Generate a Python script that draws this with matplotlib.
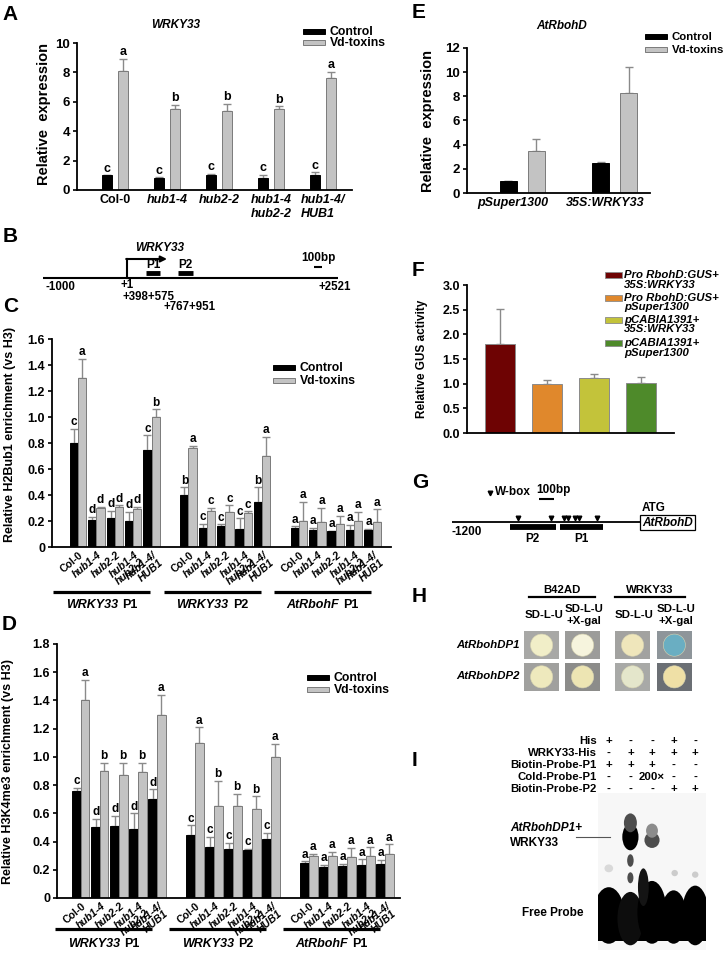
import numpy as np
import matplotlib
matplotlib.use('Agg')
import matplotlib.pyplot as plt
from matplotlib.patches import Rectangle, Ellipse
from matplotlib.offsetbox import TextArea, HPacker, AnnotationBbox

plt.rcParams['font.family'] = ['Liberation Sans', 'DejaVu Sans']
plt.rcParams['font.weight'] = 'bold'
plt.rcParams['axes.labelweight'] = 'bold'

W, H = 724, 963
GRAY, EDGE, ERR = '#c3c3c3', '#7a7a7a', '#8a8a8a'

#%% DATA
genotypes = ['Col-0', 'hub1-4', 'hub2-2', 'hub1-4\nhub2-2', 'hub1-4/\nHUB1']

# A - WRKY33 expression
a_ctrl = [1.0, 0.85, 1.0, 0.85, 1.0]
a_ctrl_err = [0.0, 0.02, 0.12, 0.17, 0.2]
a_vd = [8.1, 5.5, 5.4, 5.5, 7.6]
a_vd_err = [0.8, 0.3, 0.45, 0.2, 0.45]
a_ctrl_let = ['c', 'c', 'c', 'c', 'c']
a_vd_let = ['a', 'b', 'b', 'b', 'a']

# B - WRKY33 locus (bp, as drawn)
b_span = [-1000, 2521]
b_tss, b_arrow_end = 1, 480
b_p1_drawn = [229, 396]
b_p2_drawn = [611, 790]
b_scale = [2234, 2334]

# C - H2Bub1 ChIP
cluster_gene = ['WRKY33', 'WRKY33', 'AtRbohF']
cluster_probe = ['P1', 'P2', 'P1']
c_ctrl = [0.80, 0.21, 0.22, 0.20, 0.75,
          0.40, 0.15, 0.16, 0.14, 0.35,
          0.15, 0.13, 0.12, 0.13, 0.13]
c_ctrl_err = [0.11, 0.02, 0.06, 0.07, 0.11,
              0.06, 0.03, 0.015, 0.08, 0.11,
              0.01, 0.015, 0.005, 0.04, 0.01]
c_vd = [1.30, 0.30, 0.31, 0.29, 1.00,
        0.76, 0.28, 0.27, 0.26, 0.70,
        0.20, 0.19, 0.18, 0.20, 0.19]
c_vd_err = [0.15, 0.01, 0.01, 0.02, 0.06,
            0.02, 0.02, 0.05, 0.015, 0.15,
            0.15, 0.11, 0.06, 0.07, 0.10]
c_ctrl_let = list('cdddc' 'bcccb' 'aaaaa')
c_vd_let = list('adddb' 'accca' 'aaaaa')

# D - H3K4me3 ChIP
d_ctrl = [0.76, 0.50, 0.51, 0.49, 0.70,
          0.45, 0.36, 0.35, 0.34, 0.42,
          0.25, 0.22, 0.23, 0.235, 0.24]
d_ctrl_err = [0.02, 0.06, 0.07, 0.11, 0.07,
              0.065, 0.075, 0.04, 0.01, 0.04,
              0.01, 0.015, 0.01, 0.04, 0.03]
d_vd = [1.40, 0.90, 0.87, 0.89, 1.30,
        1.10, 0.65, 0.65, 0.63, 1.00,
        0.30, 0.30, 0.29, 0.30, 0.31]
d_vd_err = [0.145, 0.06, 0.09, 0.07, 0.14,
            0.11, 0.18, 0.09, 0.09, 0.09,
            0.015, 0.025, 0.065, 0.06, 0.07]
d_ctrl_let = list('cdddd' 'ccccc' 'aaaaa')
d_vd_let = list('abbba' 'abbba' 'aaaaa')

# E - AtRbohD expression
e_lines = ['pSuper1300', '35S:WRKY33']
e_ctrl = [1.0, 2.5]
e_ctrl_err = [0.0, 0.06]
e_vd = [3.5, 8.25]
e_vd_err = [0.95, 2.15]

# F - GUS activity
f_labels = [('Pro RbohD:GUS+', '35S:WRKY33'), ('Pro RbohD:GUS+', 'pSuper1300'),
            ('pCABIA1391+', '35S:WRKY33'), ('pCABIA1391+', 'pSuper1300')]
f_vals = [1.80, 1.00, 1.12, 1.02]
f_err = [0.72, 0.08, 0.07, 0.11]
f_colors = ['#6e0303', '#e0882c', '#c3c33a', '#4e8a2a']

# G - AtRbohD promoter (bp, as drawn)
g_span = [-1200, 0]
g_p2_drawn = [-831, -538]
g_p1_drawn = [-512, -238]
g_wbox = [-780, -569, -486, -459, -417, -392, -276]
g_scale = [-646, -546]

# H - yeast one-hybrid
h_cols = ['SD-L-U', 'SD-L-U\n+X-gal', 'SD-L-U', 'SD-L-U\n+X-gal']
h_rows = ['AtRbohDP1', 'AtRbohDP2']
h_tile = [['#a8a8a6', '#9c9c9a', '#a2a2a0', '#8e959a'],
          ['#a0a09e', '#8c8c8a', '#a8a9a7', '#6b6f74']]
h_colony = [['#f1eec8', '#f6f4dd', '#efe6bb', '#6aaec2'],
            ['#eee9bd', '#ede5b3', '#e4e6cb', '#efe0a6']]

# I - EMSA
i_rows = ['His', 'WRKY33-His', 'Biotin-Probe-P1', 'Cold-Probe-P1', 'Biotin-Probe-P2']
i_table = [['+', '-', '-', '+', '-'],
           ['-', '+', '+', '+', '+'],
           ['+', '+', '+', '-', '-'],
           ['-', '-', '200×', '-', '-'],
           ['-', '-', '-', '+', '+']]
# lane, y (gel fraction), width (lanes), height, grey level
gel_blobs = [(1.0, 0.78, 1.45, 0.36, 0.0), (2.0, 0.80, 1.20, 0.34, 0.05),
             (3.0, 0.76, 1.35, 0.40, 0.0), (4.0, 0.79, 1.20, 0.34, 0.0),
             (5.0, 0.78, 1.25, 0.38, 0.0), (2.6, 0.60, 0.50, 0.24, 0.08),
             (2.0, 0.28, 0.75, 0.17, 0.0), (2.0, 0.19, 0.60, 0.12, 0.3),
             (3.0, 0.30, 0.70, 0.10, 0.3), (3.0, 0.24, 0.55, 0.09, 0.55),
             (2.0, 0.43, 0.30, 0.08, 0.3), (2.0, 0.54, 0.28, 0.07, 0.3),
             (1.0, 0.48, 0.40, 0.05, 0.85), (4.05, 0.51, 0.30, 0.04, 0.8),
             (5.0, 0.52, 0.30, 0.04, 0.8)]

#%% HELPERS
fig = plt.figure(figsize=(W / 100, H / 100), dpi=100)


def box(l, t, r, b):
    return [l / W, 1 - b / H, (r - l) / W, (b - t) / H]


def style(ax, ysize):
    ax.spines['top'].set_visible(False)
    ax.spines['right'].set_visible(False)
    ax.spines['left'].set_linewidth(1.3)
    ax.spines['bottom'].set_linewidth(1.3)
    ax.tick_params(axis='y', direction='out', length=3, width=1.2, pad=2, labelsize=ysize)
    ax.tick_params(axis='x', length=0)
    ax.set_facecolor('none')


def bars_with_letters(ax, pos, vals, errs, lets, color, edge, w, fs):
    ax.bar(pos, vals, w, color=color, edgecolor=edge, linewidth=0.7, zorder=2)
    ax.errorbar(pos, vals, yerr=[np.zeros(len(vals)), errs], fmt='none',
                ecolor=ERR, elinewidth=1.0, capsize=2.8, capthick=1.0, zorder=1)
    if lets is None:
        return
    for x, v, e, l in zip(pos, vals, errs, lets):
        ax.annotate(l, (x, v + e), xytext=(0, 0.5), textcoords='offset points',
                    ha='center', va='bottom', fontsize=fs)


def cluster_chart(ax, ctrl, ce, vd, ve, lc, lv, ymax, xl, ylab, under_y, lab_y, ext):
    pos = np.concatenate([np.arange(5) + 6 * k for k in range(3)])
    w = 0.45
    bars_with_letters(ax, pos - w / 2, ctrl, ce, lc, 'black', 'black', w, 8.5)
    bars_with_letters(ax, pos + w / 2, vd, ve, lv, GRAY, EDGE, w, 8.5)
    ax.set_xlim(*xl)
    ax.set_ylim(0, ymax)
    ticks = np.arange(0, ymax + 0.01, 0.2)
    ax.set_yticks(ticks)
    ax.set_yticklabels(['0'] + [f'{t:.1f}' for t in ticks[1:]])
    style(ax, 9)
    ax.set_xticks(pos + 0.05)
    ax.set_xticklabels(genotypes * 3, rotation=40, ha='right', va='top',
                       rotation_mode='anchor', fontsize=7.6, multialignment='right',
                       linespacing=0.95)
    for t in ax.get_xticklabels():
        if t.get_text() != 'Col-0':
            t.set_fontstyle('italic')
    ax.tick_params(axis='x', pad=2)
    ax.set_ylabel(ylab, fontsize=9)
    tr = ax.get_xaxis_transform()
    for k in range(3):
        x0, x1 = 6 * k + ext[0], 6 * k + ext[1]
        ax.plot([x0, x1], [under_y, under_y], color='black', lw=2.3,
                transform=tr, clip_on=False, solid_capstyle='butt')
        pack = HPacker(children=[
            TextArea(cluster_gene[k], textprops=dict(fontsize=9, fontstyle='italic', fontweight='bold')),
            TextArea(cluster_probe[k], textprops=dict(fontsize=9, fontweight='bold'))],
            pad=0, sep=3, align='baseline')
        ab = AnnotationBbox(pack, ((x0 + x1) / 2, lab_y), xycoords=tr, frameon=False,
                            box_alignment=(0.5, 0.5), pad=0, annotation_clip=False)
        ax.add_artist(ab)


#%% A
axA = fig.add_axes(box(77, 43, 352, 190))
xa = np.arange(5)
bars_with_letters(axA, xa - 0.154, a_ctrl, a_ctrl_err, a_ctrl_let, 'black', 'black', 0.19, 9)
bars_with_letters(axA, xa + 0.154, a_vd, a_vd_err, a_vd_let, GRAY, EDGE, 0.19, 9)
axA.set_xlim(-0.73, 4.56)
axA.set_ylim(0, 10)
axA.set_yticks(range(0, 11, 2))
style(axA, 9.5)
axA.set_xticks(xa)
axA.set_xticklabels(genotypes, fontsize=9, multialignment='left')
for t in axA.get_xticklabels():
    if t.get_text() != 'Col-0':
        t.set_fontstyle('italic')
axA.tick_params(axis='x', pad=3)
axA.set_ylabel('Relative  expression', fontsize=10.5)
axA.yaxis.set_label_coords(-0.095, 0.52)

#%% C
axC = fig.add_axes(box(52, 339, 391, 547))
cluster_chart(axC, c_ctrl, c_ctrl_err, c_vd, c_vd_err, c_ctrl_let, c_vd_let, 1.6,
              (-1.41, 17.0), 'Relative H2Bub1 enrichment (vs H3)', -0.215, -0.28, (-1.35, 3.92))
axC.yaxis.set_label_coords(-0.105, 0.54)

#%% D
axD = fig.add_axes(box(57, 644, 400, 898))
cluster_chart(axD, d_ctrl, d_ctrl_err, d_vd, d_vd_err, d_ctrl_let, d_vd_let, 1.8,
              (-1.26, 16.79), 'Relative H3K4me3 enrichment (vs H3)', -0.122, -0.18, (-1.35, 3.75))
axD.yaxis.set_label_coords(-0.125, 0.5)

#%% E
axE = fig.add_axes(box(467, 48, 650, 193))
xe = np.arange(2)
bars_with_letters(axE, xe - 0.151, e_ctrl, e_ctrl_err, None, 'black', 'black', 0.184, 9)
bars_with_letters(axE, xe + 0.151, e_vd, e_vd_err, None, GRAY, EDGE, 0.184, 9)
axE.set_xlim(-0.6, 1.38)
axE.set_ylim(0, 12)
axE.set_yticks(range(0, 13, 2))
style(axE, 9.5)
axE.set_xticks(xe - 0.1)
axE.set_xticklabels(e_lines, fontsize=9, fontstyle='italic')
axE.tick_params(axis='x', pad=3)
axE.set_ylabel('Relative  expression', fontsize=10.5)
axE.yaxis.set_label_coords(-0.175, 0.5)

#%% F
axF = fig.add_axes(box(467, 285, 674, 433))
xf = np.arange(4)
axF.bar(xf, f_vals, 0.62, color=f_colors, edgecolor='#8a8a8a', linewidth=0.7, zorder=2)
axF.errorbar(xf, f_vals, yerr=[np.zeros(4), f_err], fmt='none', ecolor=ERR,
             elinewidth=1.0, capsize=3, capthick=1.0, zorder=1)
axF.set_xlim(-0.70, 3.70)
axF.set_ylim(0, 3.0)
axF.set_yticks(np.arange(0, 3.01, 0.5))
axF.set_yticklabels([f'{t:.1f}' for t in np.arange(0, 3.01, 0.5)])
style(axF, 9)
axF.set_xticks([])
axF.set_ylabel('Relative GUS activity', fontsize=8.5)
axF.yaxis.set_label_coords(-0.19, 0.5)

#%% B
axB = fig.add_axes(box(43, 240, 338, 312))
axB.set_xlim(*b_span)
axB.set_ylim(312, 240)
axB.axis('off')
axB.plot(b_span, [278, 278], color='black', lw=1.5, solid_capstyle='butt')
axB.plot([b_tss, b_tss], [278, 259], color='black', lw=1.5)
axB.annotate('', xy=(b_arrow_end, 259), xytext=(b_tss - 8, 259),
             arrowprops=dict(arrowstyle='-|>', lw=1.5, color='black', mutation_scale=9,
                             shrinkA=0, shrinkB=0))
axB.text(396, 248, 'WRKY33', fontsize=8.5, fontstyle='italic', ha='center', va='center')
for span, lab in [(b_p1_drawn, 'P1'), (b_p2_drawn, 'P2')]:
    axB.plot(span, [273, 273], color='black', lw=3.5, solid_capstyle='butt')
    axB.text(np.mean(span), 265, lab, fontsize=8.5, ha='center', va='center')
axB.plot(b_scale, [267, 267], color='black', lw=1.5, solid_capstyle='butt')
axB.text(np.mean(b_scale), 258, '100bp', fontsize=8.5, ha='center', va='center')
axB.text(b_span[0] + 30, 287, '-1000', fontsize=8.3, ha='left', va='center')
axB.text(b_tss, 285, '+1', fontsize=8.3, ha='center', va='center')
axB.text(np.mean(b_p1_drawn) - 50, 296.5, '+398+575', fontsize=8.3, ha='center', va='center')
axB.text(np.mean(b_p2_drawn) + 50, 307, '+767+951', fontsize=8.3, ha='center', va='center')
axB.text(b_span[1] - 40, 287, '+2521', fontsize=8.3, ha='center', va='center', clip_on=False)

#%% G
axG = fig.add_axes(box(452, 480, 640, 545))
axG.set_xlim(*g_span)
axG.set_ylim(545, 480)
axG.axis('off')
axG.plot(g_span, [522, 522], color='black', lw=1.3)
axG.add_patch(Rectangle((0, 515), 350, 15, fc='white', ec='black', lw=0.9, clip_on=False))
axG.text(175, 522.5, 'AtRbohD', fontsize=8.5, fontstyle='italic', ha='center', va='center', clip_on=False)
axG.text(10, 508, 'ATG', fontsize=8.5, ha='left', va='center', clip_on=False)
axG.text(-1200, 532, '-1200', fontsize=8.5, ha='left', va='center')
for span, lab in [(g_p2_drawn, 'P2'), (g_p1_drawn, 'P1')]:
    axG.plot(span, [527, 527], color='black', lw=4.2, solid_capstyle='butt')
    axG.text(np.mean(span), 539, lab, fontsize=8.5, ha='center', va='center')
axG.plot(g_wbox, [518] * len(g_wbox), 'v', color='black', ms=3.3, clip_on=False)
axG.plot([-955], [493], 'v', color='black', ms=3.3)
axG.text(-925, 492, 'W-box', fontsize=8.5, ha='left', va='center')
axG.plot(g_scale, [499, 499], color='black', lw=1.5, solid_capstyle='butt')
axG.text(g_scale[0] - 15, 490, '100bp', fontsize=8.5, ha='left', va='center')

#%% H
axH = fig.add_axes(box(524, 631, 692, 691))
axH.set_xlim(0, 4.1)
axH.set_ylim(1.95, 0)
axH.axis('off')
col_x = [0, 1.0, 2.22, 3.24]
for i in range(2):
    for j in range(4):
        axH.add_patch(Rectangle((col_x[j], i * 1.03), 0.86, 0.92, fc=h_tile[i][j], ec='none'))
        axH.add_patch(Ellipse((col_x[j] + 0.43, i * 1.03 + 0.46), 0.54, 0.72,
                              fc=h_colony[i][j], ec='#d8d4b0', lw=0.4))

#%% I
axI = fig.add_axes(box(598, 793, 706, 950))
axI.set_xlim(0.5, 5.5)
axI.set_ylim(1, 0)
axI.set_xticks([])
axI.set_yticks([])
for s in axI.spines.values():
    s.set_visible(False)
axI.set_facecolor('#f7f7f7')
axI.add_patch(Rectangle((0.52, 0.72), 4.96, 0.22, fc='black', ec='none'))
for lane, y, w, h, g in gel_blobs:
    axI.add_patch(Ellipse((lane, y), w, h, fc=str(g), ec='none'))
for r, (lab, row) in enumerate(zip(i_rows, i_table)):
    y = -0.025 - 0.076 * (4 - r)
    axI.text(0.44, y, lab, fontsize=8.2, ha='right', va='center', clip_on=False)
    for lane, v in enumerate(row, start=1):
        axI.text(lane, y, v, fontsize=8.2, ha='center', va='center', clip_on=False)
axI.plot([-0.5, 1.05], [0.28, 0.28], color='#555555', lw=0.8, clip_on=False)

#%% OVERLAY TEXT
ov = fig.add_axes([0, 0, 1, 1], zorder=10)
ov.set_xlim(0, W)
ov.set_ylim(H, 0)
ov.axis('off')


def pair_legend(x, y, dy, fs):
    for k, (fc, ec, lab) in enumerate([('black', 'black', 'Control'), (GRAY, EDGE, 'Vd-toxins')]):
        ov.add_patch(Rectangle((x, y + k * dy - 2.5), 22, 5, fc=fc, ec=ec, lw=0.7))
        ov.text(x + 27, y + k * dy, lab, fontsize=fs, ha='left', va='center')


pair_legend(303, 32, 11, 8.8)
pair_legend(273, 368, 13, 8.8)
pair_legend(307, 678, 12, 8.8)
pair_legend(645, 37, 13, 8.2)

for y0, (l1, l2), c in zip([275, 298, 320, 343], f_labels, f_colors):
    ov.add_patch(Rectangle((605, y0 - 3), 17, 6, fc=c, ec='#8a8a8a', lw=0.6))
    ov.text(624, y0, l1, fontsize=8.2, fontstyle='italic', ha='left', va='center')
    ov.text(624, y0 + 9.5, l2, fontsize=8.2, fontstyle='italic', ha='left', va='center')

ov.text(176, 25, 'WRKY33', fontsize=8.5, fontstyle='italic', ha='center', va='center')
ov.text(562, 26, 'AtRbohD', fontsize=8.5, fontstyle='italic', ha='center', va='center')

for lab, x, y in [('A', 2, 14), ('B', 3, 236), ('C', 3, 306), ('D', 2, 625),
                  ('E', 412, 12), ('F', 412, 270), ('G', 412, 482), ('H', 412, 597), ('I', 412, 760)]:
    ov.text(x, y, lab, fontsize=15, ha='left', va='center')

# H headers
ov.text(562, 590, 'B42AD', fontsize=8.2, ha='center', va='center')
ov.plot([529, 595], [597, 597], color='black', lw=1.6)
ov.text(650, 590, 'WRKY33', fontsize=8.2, ha='center', va='center')
ov.plot([615, 685], [597, 597], color='black', lw=1.6)
for x, lab in zip([544, 584, 634, 676], h_cols):
    ov.text(x, 615, lab, fontsize=8.2, ha='center', va='center', linespacing=1.15)
for y, lab in zip([645, 676], h_rows):
    ov.text(520, y, lab, fontsize=8.2, fontstyle='italic', ha='right', va='center')

# I labels
ov.text(510, 828, 'AtRbohDP1+', fontsize=8.5, fontstyle='italic', ha='left', va='center')
ov.text(510, 843, 'WRKY33', fontsize=8.5, ha='left', va='center')
ov.text(522, 913, 'Free Probe', fontsize=8.5, ha='left', va='center')

fig.savefig('out.png', dpi=100)
